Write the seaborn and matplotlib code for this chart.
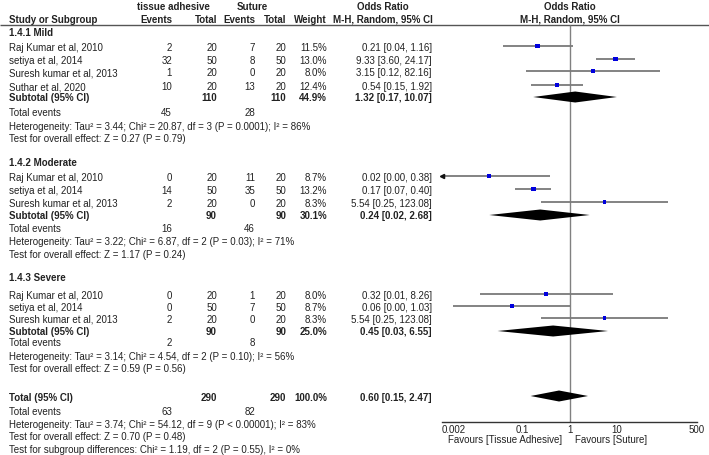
import matplotlib
matplotlib.use('Agg')
import matplotlib.pyplot as plt
import seaborn as sns
import pandas as pd

# Datos del forest plot
group_names = ['1.4.1 Mild', '1.4.2 Moderate', '1.4.3 Severe']
studies = [
    ['Raj Kumar et al, 2010', 'setiya et al, 2014', 'Suresh kumar et al, 2013', 'Suthar et al, 2020'],
    ['Raj Kumar et al, 2010', 'setiya et al, 2014', 'Suresh kumar et al, 2013'],
    ['Raj Kumar et al, 2010', 'setiya et al, 2014', 'Suresh kumar et al, 2013'],
]
ta_events = [[2, 32, 1, 10], [0, 14, 2], [0, 0, 2]]
ta_total = [[20, 50, 20, 20], [20, 50, 20], [20, 50, 20]]
su_events = [[7, 8, 0, 13], [11, 35, 0], [1, 7, 0]]
su_total = [[20, 50, 20, 20], [20, 50, 20], [20, 50, 20]]
weights = [[11.5, 13.0, 8.0, 12.4], [8.7, 13.2, 8.3], [8.0, 8.7, 8.3]]
odds = [[0.21, 9.33, 3.15, 0.54], [0.02, 0.17, 5.54], [0.32, 0.06, 5.54]]
ci_low = [[0.04, 3.60, 0.12, 0.15], [0.001, 0.07, 0.25], [0.013, 0.0034, 0.25]]
ci_high = [[1.16, 24.17, 82.16, 1.92], [0.38, 0.40, 123.08], [8.26, 1.03, 123.08]]

sub_weight = [44.9, 30.1, 25.0]
sub_or = [1.32, 0.24, 0.45]
sub_low = [0.17, 0.02, 0.03]
sub_high = [10.07, 2.68, 6.55]
sub_het = [
    'Heterogeneity: Tau² = 3.44; Chi² = 20.87, df = 3 (P = 0.0001); I² = 86%',
    'Heterogeneity: Tau² = 3.22; Chi² = 6.87, df = 2 (P = 0.03); I² = 71%',
    'Heterogeneity: Tau² = 3.14; Chi² = 4.54, df = 2 (P = 0.10); I² = 56%',
]
sub_test = [
    'Test for overall effect: Z = 0.27 (P = 0.79)',
    'Test for overall effect: Z = 1.17 (P = 0.24)',
    'Test for overall effect: Z = 0.59 (P = 0.56)',
]

total_or, total_low, total_high = 0.60, 0.15, 2.47
total_het = 'Heterogeneity: Tau² = 3.74; Chi² = 54.12, df = 9 (P < 0.00001); I² = 83%'
total_test = 'Test for overall effect: Z = 0.70 (P = 0.48)'
subgroup_test = 'Test for subgroup differences: Chi² = 1.19, df = 2 (P = 0.55), I² = 0%'

ticks = [0.002, 0.1, 1, 10, 500]
tick_labels = ['0.002', '0.1', '1', '10', '500']

# Posiciones de filas (en pixeles de la figura)
group_rows = [
    dict(head=33, studies=[48, 61, 73, 87], sub=98, ev=113, het=127, test=139),
    dict(head=163, studies=[178, 191, 204], sub=216, ev=229, het=242, test=255),
    dict(head=278, studies=[296, 308, 320], sub=332, ev=343, het=357, test=369),
]
total_rows = dict(sub=398, ev=412, het=425, test=437, diff=450)

sns.set_theme(style='white')
plt.rcParams['font.family'] = ['Liberation Sans', 'DejaVu Sans']
fs = 7.0
tc = '#222222'

fig = plt.figure(figsize=(7.09, 4.56), dpi=100)
ax = fig.add_axes([0, 0, 1, 1])
ax.set_xlim(0, 709)
ax.set_ylim(456, 0)
ax.axis('off')

col_ta_ev, col_ta_tot, col_su_ev, col_su_tot, col_w, col_or = 172, 217, 255, 286, 327, 432


def txt(x, y, s, ha='left', bold=False):
    ax.text(x, y, s, ha=ha, va='center', fontsize=fs, color=tc,
            fontweight='bold' if bold else 'normal')


def fmt_or(o, lo, hi):
    return f'{o:.2f} [{lo:.2f}, {hi:.2f}]'


# Encabezados
txt(173, 7, 'tissue adhesive', ha='center', bold=True)
txt(252, 7, 'Suture', ha='center', bold=True)
txt(383, 7, 'Odds Ratio', ha='center', bold=True)
txt(570, 7, 'Odds Ratio', ha='center', bold=True)
txt(9, 20, 'Study or Subgroup', bold=True)
txt(col_ta_ev, 20, 'Events', ha='right', bold=True)
txt(col_ta_tot, 20, 'Total', ha='right', bold=True)
txt(col_su_ev, 20, 'Events', ha='right', bold=True)
txt(col_su_tot, 20, 'Total', ha='right', bold=True)
txt(col_w, 20, 'Weight', ha='right', bold=True)
txt(383, 20, 'M-H, Random, 95% CI', ha='center', bold=True)
txt(570, 20, 'M-H, Random, 95% CI', ha='center', bold=True)
ax.hlines(26, 0, 709, color='#555555', lw=1)

# Tabla por subgrupo
recs = []
for g, rows in enumerate(group_rows):
    txt(9, rows['head'], group_names[g], bold=True)
    for i, name in enumerate(studies[g]):
        y = rows['studies'][i]
        txt(9, y, name)
        txt(col_ta_ev, y, str(ta_events[g][i]), ha='right')
        txt(col_ta_tot, y, str(ta_total[g][i]), ha='right')
        txt(col_su_ev, y, str(su_events[g][i]), ha='right')
        txt(col_su_tot, y, str(su_total[g][i]), ha='right')
        txt(col_w, y, f'{weights[g][i]:.1f}%', ha='right')
        txt(col_or, y, fmt_or(odds[g][i], ci_low[g][i], ci_high[g][i]), ha='right')
        recs.append(dict(y=y - 1, odds=odds[g][i], lo=ci_low[g][i], hi=ci_high[g][i], weight=weights[g][i]))
    y = rows['sub']
    txt(9, y, 'Subtotal (95% CI)', bold=True)
    txt(col_ta_tot, y, str(sum(ta_total[g])), ha='right', bold=True)
    txt(col_su_tot, y, str(sum(su_total[g])), ha='right', bold=True)
    txt(col_w, y, f'{sub_weight[g]:.1f}%', ha='right', bold=True)
    txt(col_or, y, fmt_or(sub_or[g], sub_low[g], sub_high[g]), ha='right', bold=True)
    txt(9, rows['ev'], 'Total events')
    txt(col_ta_ev, rows['ev'], str(sum(ta_events[g])), ha='right')
    txt(col_su_ev, rows['ev'], str(sum(su_events[g])), ha='right')
    txt(9, rows['het'], sub_het[g])
    txt(9, rows['test'], sub_test[g])

# Total general
y = total_rows['sub']
txt(9, y, 'Total (95% CI)', bold=True)
txt(col_ta_tot, y, str(sum(sum(t) for t in ta_total)), ha='right', bold=True)
txt(col_su_tot, y, str(sum(sum(t) for t in su_total)), ha='right', bold=True)
txt(col_w, y, f'{sum(sub_weight):.1f}%', ha='right', bold=True)
txt(col_or, y, fmt_or(total_or, total_low, total_high), ha='right', bold=True)
txt(9, total_rows['ev'], 'Total events')
txt(col_ta_ev, total_rows['ev'], str(sum(sum(e) for e in ta_events)), ha='right')
txt(col_su_ev, total_rows['ev'], str(sum(sum(e) for e in su_events)), ha='right')
txt(9, total_rows['het'], total_het)
txt(9, total_rows['test'], total_test)
txt(9, total_rows['diff'], subgroup_test)

# Forest plot
xmin, xmax = 0.002, 500
fx = fig.add_axes([442 / 709, 0, (697 - 442) / 709, 1])
fx.patch.set_alpha(0)
fx.set_xscale('log')
fx.set_xlim(xmin, xmax)
fx.set_ylim(456, 0)

df = pd.DataFrame(recs)
fx.hlines(df['y'], df['lo'].clip(lower=xmin), df['hi'].clip(upper=xmax),
          color='#7a7a7a', lw=1.3, zorder=2)
arrow = df[df['lo'] < xmin]
fx.plot([xmin] * len(arrow), arrow['y'], marker='<', ms=3, color='#111111',
        ls='none', clip_on=False, zorder=3)
sns.scatterplot(data=df, x='odds', y='y', size='weight', sizes=(7, 12),
                marker='s', color='#0000dd', edgecolor='none', legend=False,
                ax=fx, zorder=4)

h = 5.5
for g, rows in enumerate(group_rows):
    yd = rows['sub']
    fx.fill([sub_low[g], sub_or[g], sub_high[g], sub_or[g]], [yd, yd - h, yd, yd + h],
            color='black', lw=0, zorder=5)
yd = total_rows['sub'] - 1
fx.fill([total_low, total_or, total_high, total_or], [yd, yd - h, yd, yd + h],
        color='black', lw=0, zorder=5)

fx.vlines(1, 26, 423, color='#808080', lw=1, zorder=1)

for s in ['top', 'left', 'right']:
    fx.spines[s].set_visible(False)
fx.spines['bottom'].set_position(('data', 423))
fx.spines['bottom'].set_color('#333333')
fx.spines['bottom'].set_linewidth(1)
fx.set_yticks([])
fx.set_xticks(ticks)
fx.set_xticklabels(tick_labels)
fx.minorticks_off()
fx.tick_params(axis='x', direction='inout', length=5, width=1, color='#333333',
               labelsize=fs, labelcolor=tc, pad=-1)
fx.get_xticklabels()[0].set_ha('left')
fx.set_xlabel('')
fx.set_ylabel('')

txt(562, 440, 'Favours [Tissue Adhesive]', ha='right')
txt(575, 440, 'Favours [Suture]')

fig.savefig('out.png', dpi=100)
